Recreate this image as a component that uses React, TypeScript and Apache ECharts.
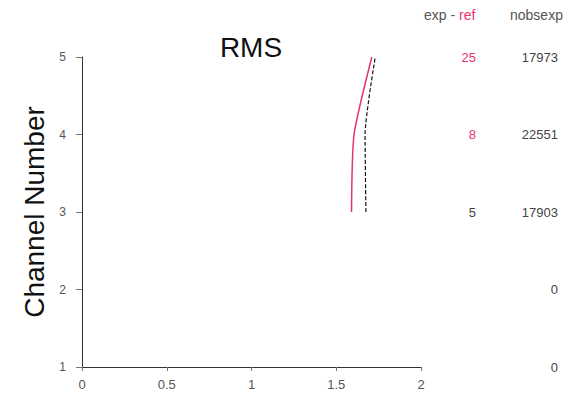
import React, { useEffect, useRef } from "react";
import * as echarts from "echarts";

const channels = [3, 4, 5];
const refRms = [1.59, 1.605, 1.71];
const expRms = [1.675, 1.67, 1.73];
const tableChannels = [5, 4, 3, 2, 1];
const expMinusRef: (string | null)[] = ["25", "8", "5", null, null];
const expMinusRefHighlighted = [true, true, false, false, false];
const nobsExp = ["17973", "22551", "17903", "0", "0"];
const xTicks = [0, 0.5, 1, 1.5, 2];

const RED = "#e5336d";
const FONT = "Liberation Sans, Arial, sans-serif";

export default function App() {
  const ref = useRef<HTMLDivElement>(null);
  useEffect(() => {
    if (!ref.current) return;
    const chart = echarts.init(ref.current, null, { renderer: "svg" });
    const option: any = {
      animation: false,
      backgroundColor: "#ffffff",
      textStyle: { fontFamily: FONT },
      title: {
        text: "RMS",
        left: 246,
        top: 28,
        textAlign: "center",
        textStyle: { fontSize: 28, fontWeight: "normal", color: "#111", fontFamily: FONT },
      },
      grid: { left: 82, right: 167, top: 57, bottom: 29 },
      xAxis: {
        type: "value",
        min: xTicks[0],
        max: xTicks[xTicks.length - 1],
        interval: 0.5,
        axisLine: { show: true, lineStyle: { color: "#333", width: 1 } },
        axisTick: { show: true, length: 4, lineStyle: { color: "#777" } },
        axisLabel: { color: "#555", fontSize: 13, margin: 11, fontFamily: FONT },
        splitLine: { show: false },
      },
      yAxis: {
        type: "value",
        min: 1,
        max: 5,
        interval: 1,
        name: "Channel Number",
        nameLocation: "middle",
        nameGap: 32,
        nameTextStyle: { fontSize: 28, color: "#111", fontFamily: FONT },
        axisLine: { show: true, onZero: false, lineStyle: { color: "#333", width: 1 } },
        axisTick: { show: true, length: 6, lineStyle: { color: "#777" } },
        axisLabel: { color: "#555", fontSize: 12, margin: 16, fontFamily: FONT },
        splitLine: { show: false },
      },
      series: [
        {
          name: "ref",
          type: "line",
          data: channels.map((c, i) => [refRms[i], c]),
          smooth: 0.2,
          showSymbol: false,
          lineStyle: { color: RED, width: 1.5 },
        },
        {
          name: "exp",
          type: "line",
          data: channels.map((c, i) => [expRms[i], c]),
          smooth: 0.2,
          showSymbol: false,
          lineStyle: { color: "#111", width: 1.2, type: [4, 2] },
        },
      ],
    };
    chart.setOption(option);

    const elements: any[] = [
      {
        type: "text",
        x: 424,
        y: 15,
        style: {
          text: "{g|exp - }{r|ref}",
          verticalAlign: "middle",
          rich: {
            g: { fill: "#555", fontSize: 14, fontFamily: FONT },
            r: { fill: RED, fontSize: 14, fontFamily: FONT },
          },
        },
      },
      {
        type: "text",
        x: 510,
        y: 15,
        style: { text: "nobsexp", fill: "#555", fontSize: 14, fontFamily: FONT, verticalAlign: "middle" },
      },
    ];
    tableChannels.forEach((c, i) => {
      const py = chart.convertToPixel({ gridIndex: 0 }, [0, c])[1];
      const d = expMinusRef[i];
      if (d !== null) {
        elements.push({
          type: "text",
          x: 476,
          y: py,
          style: {
            text: d,
            fill: expMinusRefHighlighted[i] ? RED : "#444",
            fontSize: 13,
            fontFamily: FONT,
            align: "right",
            verticalAlign: "middle",
          },
        });
      }
      elements.push({
        type: "text",
        x: 558,
        y: py,
        style: {
          text: nobsExp[i],
          fill: "#444",
          fontSize: 13,
          fontFamily: FONT,
          align: "right",
          verticalAlign: "middle",
        },
      });
    });
    chart.setOption({ graphic: { elements } });
    return () => chart.dispose();
  }, []);
  return (
    <div
      ref={ref}
      style={{ position: "fixed", left: 0, top: 0, width: 588, height: 396 }}
    />
  );
}
